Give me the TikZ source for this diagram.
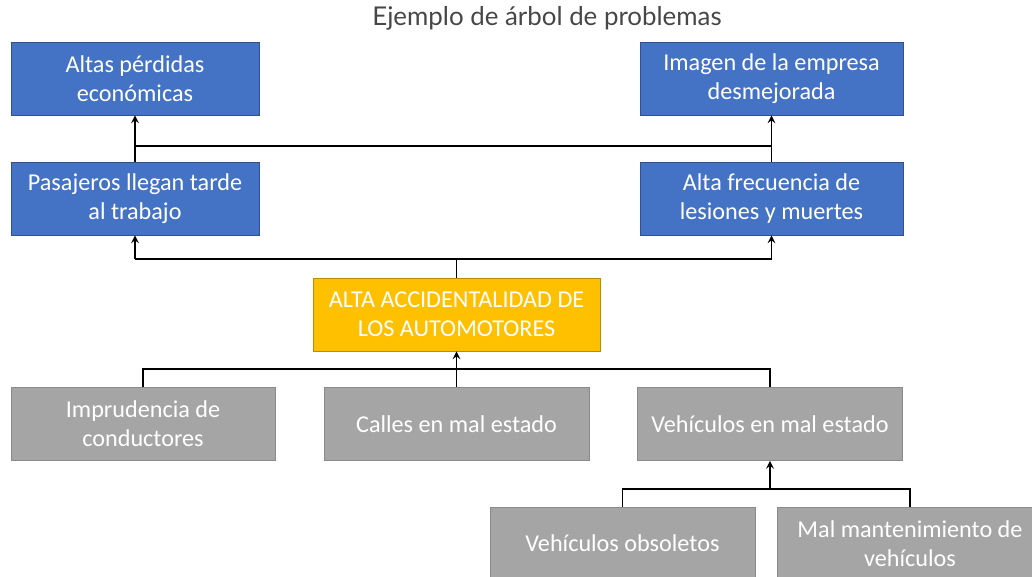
\documentclass[tikz,border=0pt]{standalone}
\usepackage{fontspec}
\setmainfont{Carlito}
\newfontfamily\titlefont{Lato}
\usepackage{xcolor}
\usetikzlibrary{positioning}

\definecolor{blueA}{HTML}{4472C4}
\definecolor{blueB}{HTML}{2F528F}
\definecolor{goldA}{HTML}{FFC000}
\definecolor{goldB}{HTML}{BC8C00}
\definecolor{grayA}{HTML}{A5A5A5}
\definecolor{grayB}{HTML}{8A8A8A}

\tikzset{
  box/.style={rectangle, draw, line width=0.6pt, text=white, align=center,
    minimum height=1.825cm, inner sep=2pt,
    font=\fontsize{17.2}{20.6}\selectfont},
  effect/.style={box, fill=blueA, draw=blueB},
  problem/.style={box, fill=goldA, draw=goldB},
  cause/.style={box, fill=grayA, draw=grayB},
  link/.style={line width=1.4pt, black},
}

\begin{document}
\begin{tikzpicture}[x=0.025cm, y=-0.025cm, >=stealth]
  \useasboundingbox (0,0) rectangle (1032,577);
  \clip (0,0) rectangle (1032,577);

  \node[font=\titlefont\fontsize{18.4}{21}\selectfont, text=black!72] (title) at (547,18) {Ejemplo de árbol de problemas};

  % effects
  \node[effect, minimum width=6.2cm] (altas) at (135,78.5) {Altas pérdidas\\económicas};
  \node[effect, minimum width=6.575cm] (imagen) at (771.5,78.5) {Imagen de la empresa\\desmejorada};
  \node[effect, minimum width=6.2cm] (pasajeros) at (135,198.5) {Pasajeros llegan tarde\\al trabajo};
  \node[effect, minimum width=6.575cm] (lesiones) at (771.5,198.5) {Alta frecuencia de\\lesiones y muertes};

  % central problem
  \node[problem, minimum width=7.175cm] (central) at (456.5,314.5) {ALTA ACCIDENTALIDAD DE\\LOS AUTOMOTORES};

  % causes
  \node[cause, minimum width=6.6cm] (imprudencia) at (143,424) {Imprudencia de\\conductores};
  \node[cause, minimum width=6.625cm] (calles) at (456.5,424) {Calles en mal estado};
  \node[cause, minimum width=6.625cm] (vehiculos) at (770,424) {Vehículos en mal estado};
  \node[cause, minimum width=6.625cm] (obsoletos) at (622.5,543.5) {Vehículos obsoletos};
  \node[cause, minimum width=6.625cm] (mantenimiento) at (910,543.5) {Mal mantenimiento de\\vehículos};

  % junctions
  \coordinate (e1) at (135,146);
  \coordinate (e2) at (771.5,146);
  \coordinate (m0) at (456.5,259);
  \coordinate (m1) at (135,259);
  \coordinate (m2) at (771.5,259);
  \coordinate (c1) at (143,369);
  \coordinate (c2) at (770,369);
  \coordinate (s0) at (770,489);
  \coordinate (s1) at (622.5,489);
  \coordinate (s2) at (910,489);

  \draw[link] (e1) -- (e2);
  \draw[link, ->] (pasajeros) -- (altas);
  \draw[link, ->] (lesiones) -- (imagen);

  \draw[link] (central) -- (m0);
  \draw[link] (m1) -- (m2);
  \draw[link, ->] (m1) -- (pasajeros);
  \draw[link, ->] (m2) -- (lesiones);

  \draw[link] (imprudencia) -- (c1) -- (c2) -- (vehiculos);
  \draw[link, ->] (calles) -- (central);

  \draw[link] (obsoletos) -- (s1) -- (s2) -- (mantenimiento);
  \draw[link, ->] (s0) -- (vehiculos);
\end{tikzpicture}
\end{document}
